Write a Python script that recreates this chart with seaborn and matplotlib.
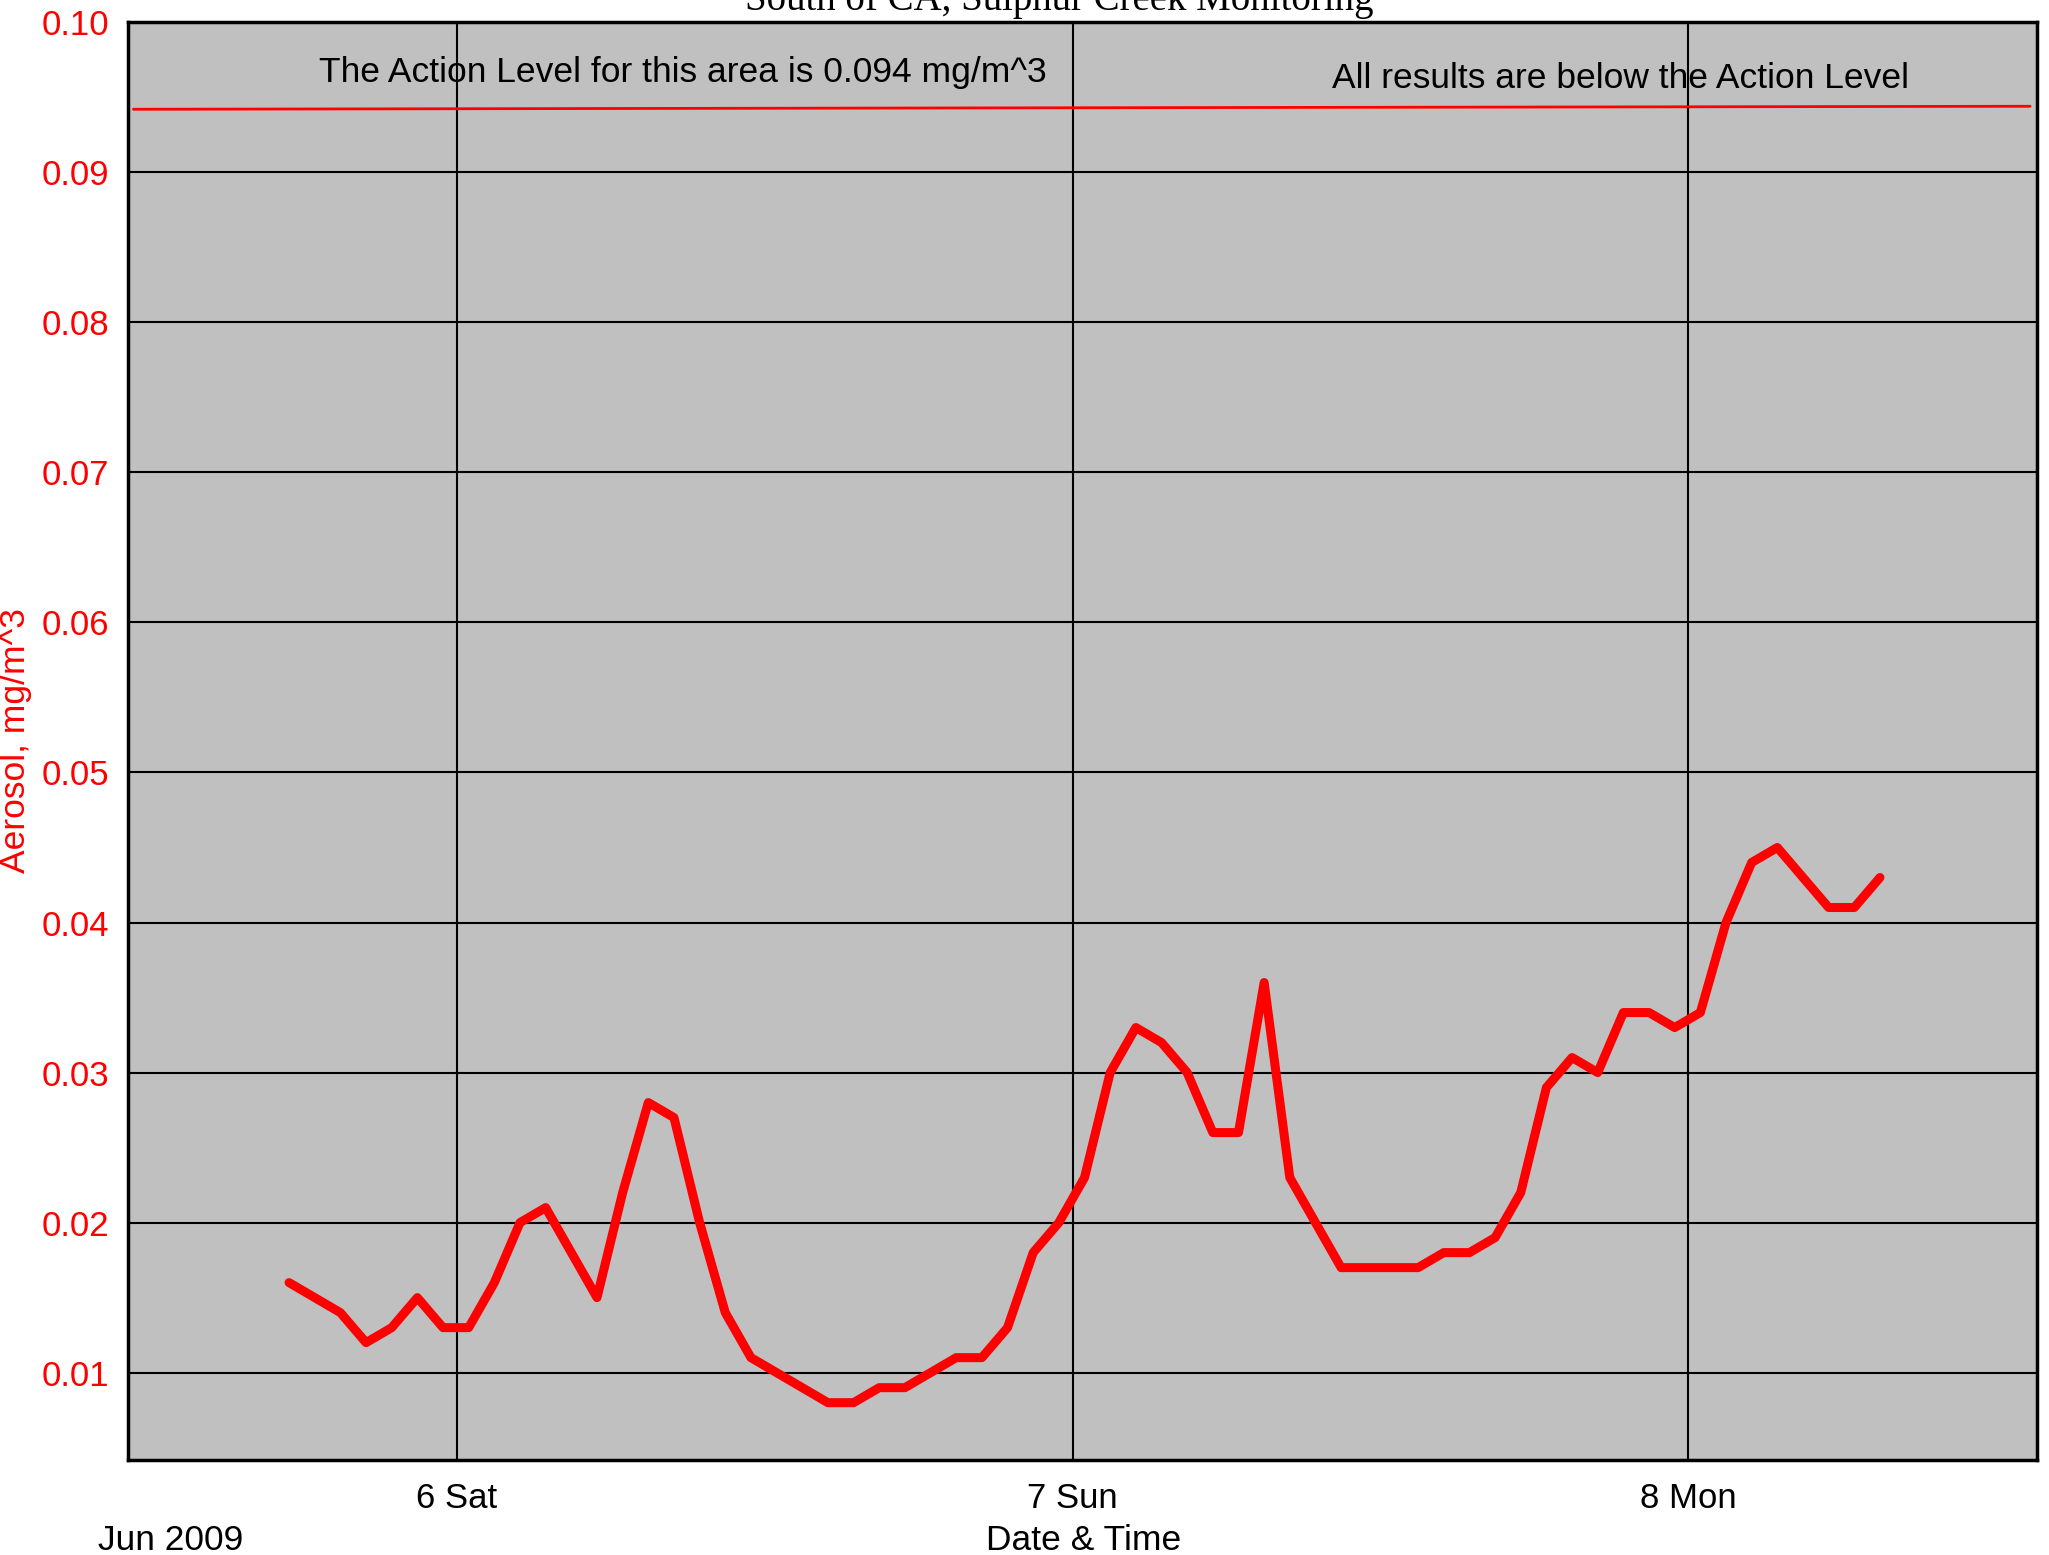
import pandas as pd
import numpy as np
import matplotlib
matplotlib.use("Agg")
import matplotlib.pyplot as plt
import matplotlib.dates as mdates
from matplotlib.ticker import MultipleLocator, FormatStrFormatter
import seaborn as sns

# hourly aerosol readings, Jun 5 17:28 -> Jun 8 07:28
start_time = "2009-06-05 17:28"
aerosol = [0.016, 0.015, 0.014, 0.012, 0.013, 0.015, 0.013, 0.013, 0.016, 0.020,
           0.021, 0.018, 0.015, 0.022, 0.028, 0.027, 0.020, 0.014, 0.011, 0.010,
           0.009, 0.008, 0.008, 0.009, 0.009, 0.010, 0.011, 0.011, 0.013, 0.018,
           0.020, 0.023, 0.030, 0.033, 0.032, 0.030, 0.026, 0.026, 0.036, 0.023,
           0.020, 0.017, 0.017, 0.017, 0.017, 0.018, 0.018, 0.019, 0.022, 0.029,
           0.031, 0.030, 0.034, 0.034, 0.033, 0.034, 0.040, 0.044, 0.045, 0.043,
           0.041, 0.041, 0.043]
times = pd.date_range(start_time, periods=len(aerosol), freq="h")

# action level line (drawn slightly sloped in the original)
action_x = pd.to_datetime(["2009-06-05 11:24", "2009-06-08 13:19"])
action_y = [0.0942, 0.0944]

x_min, x_max = pd.Timestamp("2009-06-05 11:12"), pd.Timestamp("2009-06-08 13:34")
y_min, y_max = 0.0042, 0.10

df = pd.DataFrame({"time": times, "aerosol": aerosol})

sns.set_style("white")
plt.rcParams["font.family"] = ["Liberation Sans", "DejaVu Sans"]
plt.rcParams["text.color"] = "black"
plt.rcParams["xtick.color"] = "black"
plt.rcParams["ytick.color"] = "black"

fig = plt.figure(figsize=(20.49, 15.55), dpi=100)
ax = fig.add_axes([0.0626, 0.0613, 0.9313, 0.9244])
ax.set_facecolor("#c0c0c0")

ax.grid(True, which="major", color="black", lw=1.5)
ax.set_axisbelow(True)

ax.plot(action_x, action_y, color="red", lw=2)
sns.lineplot(data=df, x="time", y="aerosol", ax=ax, color="red", lw=6.5,
             solid_capstyle="round", solid_joinstyle="round")

ax.set_xlim(x_min, x_max)
ax.set_ylim(y_min, y_max)

ax.xaxis.set_major_locator(mdates.DayLocator())
ax.xaxis.set_major_formatter(mdates.DateFormatter("%-d %a"))
ax.yaxis.set_major_locator(MultipleLocator(0.01))
ax.yaxis.set_minor_locator(MultipleLocator(0.002))
ax.yaxis.set_major_formatter(FormatStrFormatter("%.2f"))

ax.tick_params(axis="x", which="major", direction="out", length=14, width=1.5,
               labelsize=25, pad=2, colors="black")
ax.tick_params(axis="y", which="major", direction="out", length=11, width=2,
               labelsize=25, pad=3, labelcolor="red")
ax.tick_params(axis="y", which="minor", direction="in", length=13, width=2)

for sp in ax.spines.values():
    sp.set_color("black")
    sp.set_linewidth(2.5)

ax.set_xlabel("")
ax.set_ylabel("")

ax.text(0.100, 0.9584, "The Action Level for this area is 0.094 mg/m^3",
        transform=ax.transAxes, fontsize=25.5, va="baseline", ha="left")
ax.text(0.6306, 0.9542, "All results are below the Action Level",
        transform=ax.transAxes, fontsize=25.5, va="baseline", ha="left")

fig.text(0.5172, 0.9936, "South of CA, Sulphur Creek Monitoring",
         family="Liberation Serif", fontsize=28, ha="center", va="baseline")
fig.text(0.0077, 0.524, "Aerosol, mg/m^3", color="red", fontsize=25.5,
         rotation=90, ha="center", va="center")
fig.text(0.5287, 0.0035, "Date & Time", fontsize=25.5, ha="center", va="baseline")
fig.text(0.0476, 0.0035, "Jun 2009", fontsize=25.5, ha="left", va="baseline")

fig.savefig("out.png", dpi=100, facecolor="white")
